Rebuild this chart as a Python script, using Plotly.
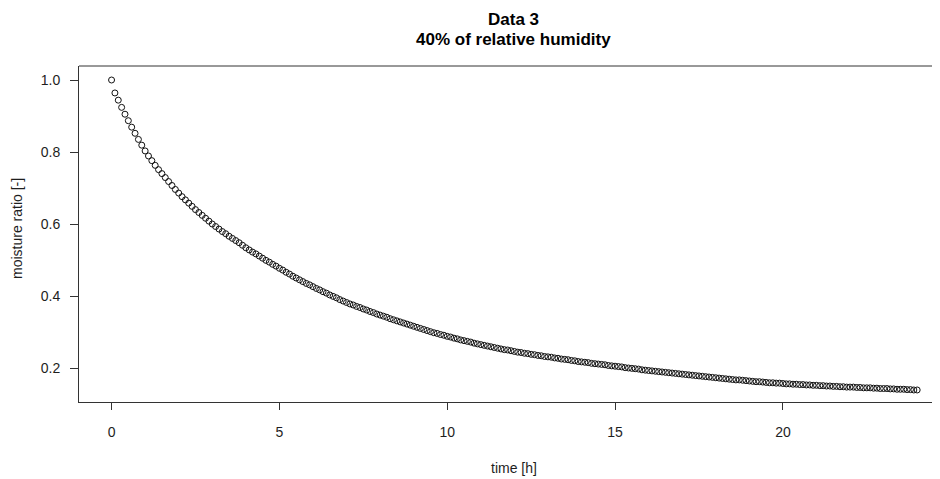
import plotly.graph_objects as go

time_h = [round(i * 0.1, 1) for i in range(241)]
moisture_ratio = [
    1.000, 0.964, 0.944, 0.924, 0.905, 0.887, 0.869, 0.852, 0.835, 0.819,
    0.803, 0.789, 0.776, 0.763, 0.751, 0.740, 0.729, 0.718, 0.707, 0.696,
    0.686, 0.676, 0.667, 0.658, 0.649, 0.640, 0.632, 0.624, 0.616, 0.608,
    0.600, 0.593, 0.586, 0.579, 0.573, 0.566, 0.560, 0.554, 0.548, 0.541,
    0.534, 0.528, 0.522, 0.517, 0.511, 0.505, 0.499, 0.494, 0.488, 0.483,
    0.477, 0.472, 0.466, 0.461, 0.455, 0.450, 0.445, 0.440, 0.435, 0.431,
    0.426, 0.421, 0.417, 0.412, 0.408, 0.403, 0.399, 0.395, 0.390, 0.386,
    0.382, 0.378, 0.375, 0.371, 0.368, 0.364, 0.361, 0.357, 0.354, 0.350,
    0.347, 0.344, 0.341, 0.337, 0.334, 0.331, 0.328, 0.325, 0.322, 0.319,
    0.316, 0.313, 0.310, 0.307, 0.304, 0.301, 0.298, 0.296, 0.293, 0.291,
    0.288, 0.286, 0.283, 0.281, 0.278, 0.276, 0.274, 0.272, 0.269, 0.267,
    0.265, 0.263, 0.261, 0.259, 0.257, 0.255, 0.253, 0.251, 0.250, 0.248,
    0.246, 0.244, 0.243, 0.241, 0.240, 0.238, 0.237, 0.235, 0.234, 0.232,
    0.231, 0.230, 0.228, 0.227, 0.225, 0.224, 0.223, 0.221, 0.220, 0.218,
    0.217, 0.216, 0.215, 0.213, 0.212, 0.211, 0.210, 0.209, 0.207, 0.206,
    0.205, 0.204, 0.203, 0.201, 0.200, 0.199, 0.198, 0.197, 0.195, 0.194,
    0.193, 0.192, 0.191, 0.190, 0.189, 0.188, 0.187, 0.186, 0.185, 0.184,
    0.183, 0.182, 0.181, 0.180, 0.179, 0.178, 0.177, 0.176, 0.175, 0.174,
    0.173, 0.172, 0.171, 0.170, 0.169, 0.168, 0.167, 0.167, 0.166, 0.165,
    0.164, 0.163, 0.162, 0.162, 0.161, 0.160, 0.159, 0.159, 0.158, 0.158,
    0.157, 0.156, 0.156, 0.155, 0.155, 0.154, 0.154, 0.153, 0.153, 0.152,
    0.152, 0.151, 0.151, 0.150, 0.150, 0.149, 0.149, 0.148, 0.148, 0.147,
    0.147, 0.147, 0.146, 0.146, 0.145, 0.145, 0.145, 0.144, 0.144, 0.143,
    0.143, 0.143, 0.142, 0.142, 0.141, 0.141, 0.141, 0.140, 0.140, 0.139,
    0.139,
]
x_ticks = [0, 5, 10, 15, 20]
y_ticks = [0.2, 0.4, 0.6, 0.8, 1.0]
y_tick_labels = ["0.2", "0.4", "0.6", "0.8", "1.0"]
title_lines = ["Data 3", "40% of relative humidity"]
x_title = "time [h]"
y_title = "moisture ratio [-]"

FONT = "Liberation Sans, Arial, sans-serif"
TXT = "#1e1e1e"
AX = "#333333"

# The page body adds an 8px offset; the figure is sized so that it fills
# the 940x479 window exactly.
fig = go.Figure()
fig.add_trace(go.Scatter(
    x=time_h, y=moisture_ratio, mode="markers",
    marker=dict(symbol="circle-open", size=6, color="#111111",
                line=dict(width=1, color="#111111")),
    showlegend=False, hoverinfo="x+y",
))

# plot area (window px): x 79..940, y 66..402
def px_x(p):
    return (p - 79) / 861.0

def px_y(p):
    return (402 - p) / 336.0

fig.update_layout(
    width=932, height=471,
    margin=dict(l=71, r=0, t=58, b=77, pad=0),
    paper_bgcolor="white", plot_bgcolor="white",
    font=dict(family=FONT, size=14, color=TXT),
    xaxis=dict(
        range=[-0.97, 24.68], tickvals=x_ticks, ticktext=[str(v) for v in x_ticks],
        showgrid=False, zeroline=False, showline=True, linecolor=AX,
        linewidth=1, mirror=False, ticks="outside", ticklen=7, tickwidth=1,
        tickcolor=AX, tickfont=dict(size=14, color=TXT, family=FONT),
        ticklabelstandoff=10,
    ),
    yaxis=dict(
        range=[0.1056, 1.0389], tickvals=y_ticks, ticktext=y_tick_labels,
        showgrid=False, zeroline=False, showline=True, linecolor=AX,
        linewidth=1, mirror=False, ticks="outside", ticklen=8, tickwidth=1,
        tickcolor=AX, tickfont=dict(size=14, color=TXT, family=FONT),
        ticklabelstandoff=7,
    ),
    shapes=[
        dict(type="line", xref="paper", yref="paper", x0=0, x1=1, y0=1, y1=1,
             line=dict(color=AX, width=1)),
    ],
    annotations=[
        dict(text="<b>%s</b>" % title_lines[0], xref="paper", yref="paper",
             x=px_x(514), y=px_y(19), xanchor="center", yanchor="middle",
             showarrow=False, font=dict(size=17, color="#000", family=FONT)),
        dict(text="<b>%s</b>" % title_lines[1], xref="paper", yref="paper",
             x=px_x(514), y=px_y(39), xanchor="center", yanchor="middle",
             showarrow=False, font=dict(size=17, color="#000", family=FONT)),
        dict(text=x_title, xref="paper", yref="paper",
             x=px_x(514), y=px_y(468), xanchor="center", yanchor="middle",
             showarrow=False, font=dict(size=14, color=TXT, family=FONT)),
        dict(text=y_title, xref="paper", yref="paper", textangle=-90,
             x=px_x(17), y=px_y(228), xanchor="center", yanchor="middle",
             showarrow=False, font=dict(size=14, color=TXT, family=FONT)),
    ],
)

fig.write_html("out.html")
